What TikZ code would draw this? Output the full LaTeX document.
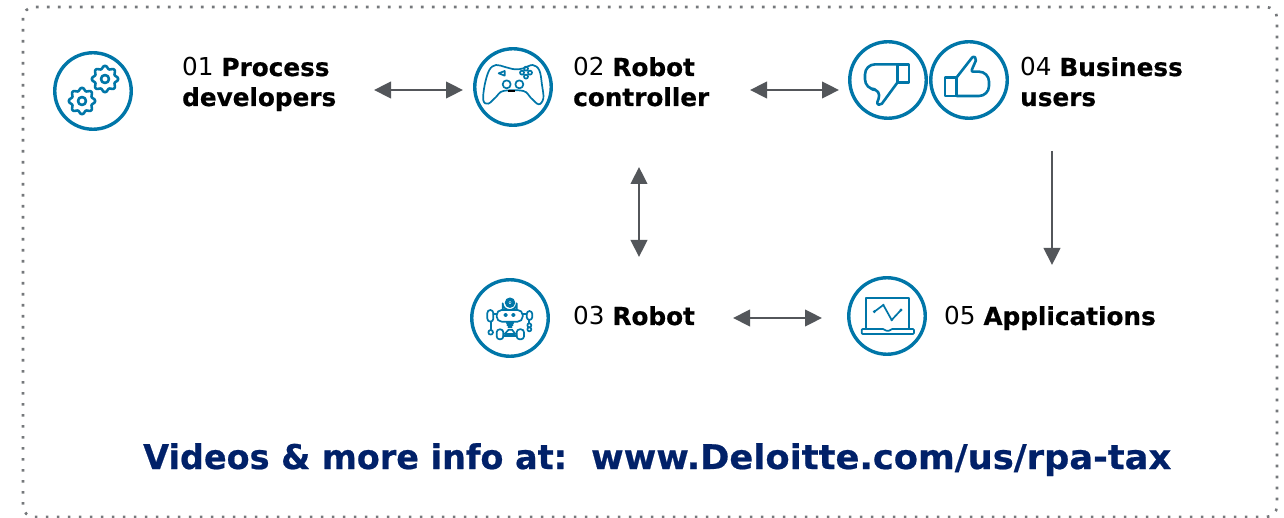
\documentclass[tikz,border=0pt]{standalone}
\usepackage{fontspec}
\usepackage{graphicx}
\setmainfont{DejaVu Sans}[BoldFeatures={FakeBold=0.6}]
\usetikzlibrary{arrows.meta}
\definecolor{dblue}{HTML}{0076A8}
\definecolor{dnavy}{HTML}{012169}
\definecolor{dgrey}{HTML}{53565A}
\definecolor{ddot}{HTML}{75787B}
\tikzset{
  x=1pt,y=-1pt,
  ring/.style={circle,draw=dblue,line width=3.4pt,minimum size=76.5pt,inner sep=0pt},
  lbl/.style={anchor=base west,inner sep=0pt,align=left,text=black,font=\fontsize{24.7}{30}\selectfont},
  icon/.style={draw=dblue,line width=2.6pt,line join=round,line cap=round},
  thin icon/.style={draw=dblue,line width=1.7pt,line join=round,line cap=round},
  link/.style={draw=dgrey,line width=2.3pt},
  twoway/.style={link,{Stealth[length=17pt,width=16.5pt,inset=0pt]}-{Stealth[length=17pt,width=16.5pt,inset=0pt]}},
  oneway/.style={link,-{Stealth[length=17pt,width=16.5pt,inset=0pt]}},
  zoomed/.style={shift={#1},scale=1/3}
}
\begin{document}
\begin{tikzpicture}
\useasboundingbox (0,0) rectangle (1284,518);
\draw[ddot,line width=2.6pt,dash pattern=on 2.6pt off 8.4pt,rounded corners=11pt] (23,7) rectangle (1277,517);

% icon rings
\node[ring] (i1) at (93,91) {};
\node[ring] (i2) at (513,87) {};
\node[ring] (i3) at (510,318) {};
\node[ring] (i4d) at (888,80) {};
\node[ring] (i4u) at (969,80) {};
\node[ring] (i5) at (887,316) {};

% gears
\foreach \cx/\cy in {105/79,82/101}{
  \draw[icon] plot[domain=0:360,samples=73,smooth] ({\cx+(11.8+1.4*cos(8*\x))*cos(\x)},{\cy+(11.8+1.4*cos(8*\x))*sin(\x)});
  \draw[icon] (\cx,\cy) circle[radius=4pt];
}

% controller
\begin{scope}[zoomed={(460,35)}]
  \draw[thin icon] plot[smooth cycle,tension=0.6] coordinates {(108,90)(135,96)(165,103)(190,100)(218,90)(238,106)(246,150)(250,190)(236,208)(212,188)(190,168)(130,168)(108,186)(85,206)(70,196)(74,150)(88,105)};
  \draw[thin icon] (140,148) circle[radius=12] (178,148) circle[radius=12];
  \draw[thin icon] (198,101) circle[radius=6] (186,113) circle[radius=6] (210,113) circle[radius=6] (198,125) circle[radius=6];
  \draw[thin icon] (116,115) -- (134,108) -- (134,122) -- cycle;
  \draw[black,line width=1.5pt] (145,168) -- (165,168);
\end{scope}

% thumb down and thumb up
\begin{scope}[zoomed={(840,30)}]
  \draw[icon] (172,103) rectangle (207,158);
  \draw[icon,rounded corners=10pt] (172,103) -- (75,103) -- (75,178) -- (126,178)
    [rounded corners=2pt] -- (110,222) -- (122,226) -- (172,158);
  \draw[icon] (315,142) rectangle (350,198);
  \draw[icon,rounded corners=2pt] (350,142) -- (400,78) -- (410,86) -- (393,125)
    [rounded corners=10pt] -- (447,125) -- (447,198) -- (350,198);
\end{scope}

% robot
\begin{scope}[zoomed={(460,270)}]
  \draw[thin icon] (128,120) -- (128,100) arc[start angle=180,end angle=360,x radius=21,y radius=-20] -- (170,120);
  \draw[thin icon] (150,98) circle[radius=13] (150,98) circle[radius=7];
  \fill[dblue] (150,98) circle[radius=2.5];
  \draw[thin icon,rounded corners=5pt] (110,120) rectangle (188,155);
  \draw[thin icon] (137,135) circle[radius=4] (160,135) circle[radius=4];
  \draw[thin icon] (140,158) -- (160,158) (142,165) -- (158,165) (145,172) -- (155,172);
  \draw[thin icon,rounded corners=3pt] (82,120) rectangle (100,155);
  \draw[thin icon] (100,132) -- (110,132) (92,155) -- (92,178);
  \draw[thin icon] (92,187) circle[radius=7];
  \draw[thin icon,rounded corners=3pt] (200,123) rectangle (217,150);
  \draw[thin icon] (188,132) -- (200,132) (208,150) -- (208,160);
  \draw[thin icon] (208,166) circle[radius=6] (208,178) circle[radius=6];
  \draw[thin icon,rounded corners=3pt] (110,178) rectangle (130,208);
  \draw[thin icon,rounded corners=3pt] (170,178) rectangle (192,208);
  \draw[thin icon] (130,198) -- (170,198) (134,192) -- (146,179) -- (156,179) -- (166,192) -- cycle;
\end{scope}

% laptop
\begin{scope}[zoomed={(840,270)}]
  \draw[thin icon] (78,175) -- (78,85) -- (208,85) -- (208,175);
  \draw[thin icon,rounded corners=1pt] (65,177) -- (132,177) -- (136,182) -- (150,182) -- (154,177) -- (222,177) -- (222,192) -- (65,192) -- cycle;
  \draw[thin icon] (103,125) -- (130,105) -- (155,150) -- (183,120);
  \fill[dblue] (103,125) circle[radius=5] (130,105) circle[radius=4] (155,150) circle[radius=4] (183,120) circle[radius=5];
\end{scope}

% labels
\node[lbl] (t1) at (182,106) {01 \textbf{Process}\\\textbf{developers}};
\node[lbl] (t2) at (573,106) {02 \textbf{Robot}\\\textbf{controller}};
\node[lbl] (t4) at (1020,106) {04 \textbf{Business}\\\textbf{users}};
\node[lbl] (t3) at (573,325) {03 \textbf{Robot}};
\node[lbl] (t5) at (944,325) {05 \textbf{Applications}};
\node[anchor=base west,inner sep=0pt,text=dnavy,font=\fontsize{34}{40}\selectfont\bfseries] (foot) at (143,469) {\scalebox{0.984}[1]{Videos \& more info at:}\hspace{24pt}\scalebox{1.038}[1]{www.Deloitte.com/us/rpa-tax}};

% connector ends
\coordinate (a1) at (374,90); \coordinate (a2) at (463,90);
\coordinate (b1) at (750,90); \coordinate (b2) at (839,90);
\coordinate (c1) at (639,167); \coordinate (c2) at (639,257);
\coordinate (d1) at (733,318); \coordinate (d2) at (822,318);
\coordinate (e1) at (1052,151); \coordinate (e2) at (1052,265);
\draw[twoway] (a1) -- (a2);
\draw[twoway] (b1) -- (b2);
\draw[twoway] (c1) -- (c2);
\draw[twoway] (d1) -- (d2);
\draw[oneway] (e1) -- (e2);
\end{tikzpicture}
\end{document}
